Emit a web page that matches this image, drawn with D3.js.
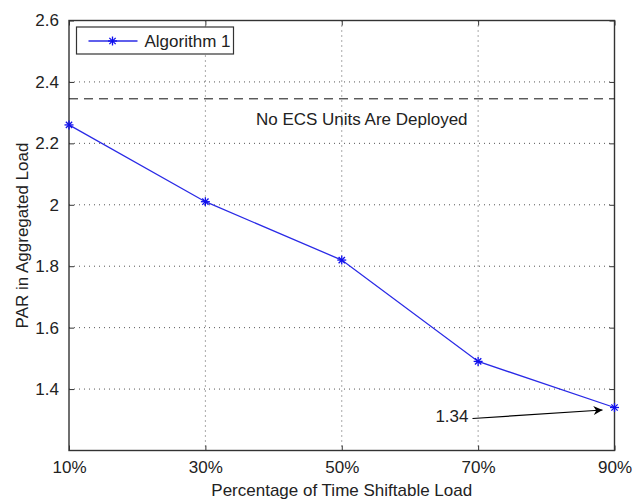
<!DOCTYPE html>
<html>
<head>
<meta charset="utf-8">
<script src="https://cdn.jsdelivr.net/npm/d3@7"></script>
<style>
  body { margin: 0; background: #fff; }
  text { font-family: "Liberation Sans", Arial, sans-serif; fill: #222; }
</style>
</head>
<body>
<div id="chart"></div>
<script>
var categories = [10, 30, 50, 70, 90];
var tickLabels = ["10%", "30%", "50%", "70%", "90%"];
var algo1 = [2.26, 2.01, 1.82, 1.49, 1.34];
var yTicks = [1.4, 1.6, 1.8, 2, 2.2, 2.4, 2.6];
var baseline = 2.345;   // no ECS units
var seriesName = "Algorithm 1";

var margin = { top: 20.5, right: 19.5, bottom: 52.5, left: 69 };
var width = 634 - margin.left - margin.right;
var height = 503 - margin.top - margin.bottom;

var xScale = d3.scaleLinear().domain([10, 90]).range([0, width]);
var yScale = d3.scaleLinear().domain([1.2, 2.6]).range([height, 0]);

var svg = d3.select('#chart').append('svg')
    .attr("width", 634)
    .attr("height", 503);
var g = svg.append("g")
    .attr("transform", "translate(" + margin.left + "," + margin.top + ")");

// grid
g.selectAll(".vgrid").data(categories.slice(1, -1)).enter().append("line")
    .attr("x1", function(d) { return xScale(d); })
    .attr("x2", function(d) { return xScale(d); })
    .attr("y1", 0).attr("y2", height)
    .attr("stroke", "#555").attr("stroke-width", 1)
    .attr("stroke-dasharray", "1,4");
g.selectAll(".hgrid").data(yTicks.slice(0, -1)).enter().append("line")
    .attr("x1", 0).attr("x2", width)
    .attr("y1", function(d) { return yScale(d); })
    .attr("y2", function(d) { return yScale(d); })
    .attr("stroke", "#555").attr("stroke-width", 1)
    .attr("stroke-dasharray", "1,4");

// axes
var xAxis = d3.axisBottom(xScale).tickValues(categories)
    .tickFormat(function(d, i) { return tickLabels[i]; })
    .tickSizeInner(-5).tickSizeOuter(0).tickPadding(10);
var yAxis = d3.axisLeft(yScale).tickValues(yTicks)
    .tickFormat(d3.format("")).tickSizeInner(-5).tickSizeOuter(0).tickPadding(10);

var gx = g.append("g").attr("transform", "translate(0," + height + ")").call(xAxis);
var gy = g.append("g").call(yAxis);
var gx2 = g.append("g").call(d3.axisTop(xScale).tickValues(categories).tickFormat("").tickSizeInner(-5).tickSizeOuter(0));
var gy2 = g.append("g").attr("transform", "translate(" + width + ",0)")
    .call(d3.axisRight(yScale).tickValues(yTicks).tickFormat("").tickSizeInner(-5).tickSizeOuter(0));
[gx, gy, gx2, gy2].forEach(function(a) {
    a.select(".domain").remove();
    a.selectAll("line").attr("stroke", "#333");
    a.selectAll("text").style("font-size", "17px").attr("fill", "#222");
});

g.append("rect").attr("width", width).attr("height", height)
    .attr("fill", "none").attr("stroke", "#333").attr("stroke-width", 1.4);

// dashed baseline
g.append("line")
    .attr("x1", 0).attr("x2", width)
    .attr("y1", yScale(baseline)).attr("y2", yScale(baseline))
    .attr("stroke", "#111").attr("stroke-width", 1)
    .attr("stroke-dasharray", "9,6");
g.append("text")
    .attr("x", xScale(50) + 20).attr("y", yScale(baseline) + 26)
    .attr("text-anchor", "middle")
    .style("font-size", "17px")
    .text("No ECS Units Are Deployed");

// series
var line = d3.line()
    .x(function(d, i) { return xScale(categories[i]); })
    .y(function(d) { return yScale(d); });
g.append("path").datum(algo1)
    .attr("d", line)
    .attr("fill", "none").attr("stroke", "#2a2ae6").attr("stroke-width", 1.3);

function star(sel, s) {
    sel.append("line").attr("x1", -s).attr("x2", s).attr("y1", 0).attr("y2", 0);
    sel.append("line").attr("x1", 0).attr("x2", 0).attr("y1", -s).attr("y2", s);
    sel.append("line").attr("x1", -s * 0.7).attr("x2", s * 0.7).attr("y1", -s * 0.7).attr("y2", s * 0.7);
    sel.append("line").attr("x1", -s * 0.7).attr("x2", s * 0.7).attr("y1", s * 0.7).attr("y2", -s * 0.7);
    sel.selectAll("line").attr("stroke", "#1010ee").attr("stroke-width", 1.3);
}
g.selectAll(".pt").data(algo1).enter().append("g")
    .attr("transform", function(d, i) { return "translate(" + xScale(categories[i]) + "," + yScale(d) + ")"; })
    .each(function() { star(d3.select(this), 4.5); });

// annotation
var defs = svg.append("defs");
defs.append("marker").attr("id", "ah")
    .attr("viewBox", "0 0 10 10").attr("refX", 10).attr("refY", 5)
    .attr("markerWidth", 14).attr("markerHeight", 9).attr("markerUnits", "userSpaceOnUse")
    .attr("orient", "auto")
    .append("path").attr("d", "M0,0 L10,5 L0,10 L3,5 Z").attr("fill", "#000");
var lastX = xScale(categories[4]), lastY = yScale(algo1[4]);
g.append("line")
    .attr("x1", lastX - 142).attr("y1", lastY + 11)
    .attr("x2", lastX - 12).attr("y2", lastY + 2.5)
    .attr("stroke", "#000").attr("stroke-width", 1.2)
    .attr("marker-end", "url(#ah)");
g.append("text")
    .attr("x", lastX - 146).attr("y", lastY + 14)
    .attr("text-anchor", "end")
    .style("font-size", "17px")
    .text(algo1[4].toFixed(2));

// legend
var lg = g.append("g").attr("transform", "translate(7.5,6.5)");
lg.append("rect").attr("width", 157).attr("height", 27)
    .attr("fill", "#fff").attr("stroke", "#333").attr("stroke-width", 1.2);
lg.append("line").attr("x1", 12).attr("x2", 61).attr("y1", 14).attr("y2", 14)
    .attr("stroke", "#2a2ae6").attr("stroke-width", 1.3);
lg.append("g").attr("transform", "translate(36,14)").call(star, 4.5);
lg.append("text").attr("x", 68).attr("y", 20)
    .style("font-size", "17px").text(seriesName);

// axis titles
svg.append("text")
    .attr("x", margin.left + width / 2).attr("y", 496)
    .attr("text-anchor", "middle").style("font-size", "17px")
    .text("Percentage of Time Shiftable Load");
svg.append("text")
    .attr("transform", "translate(28," + (margin.top + height / 2) + ") rotate(-90)")
    .attr("text-anchor", "middle").style("font-size", "17px")
    .text("PAR in Aggregated Load");
</script>
</body>
</html>
